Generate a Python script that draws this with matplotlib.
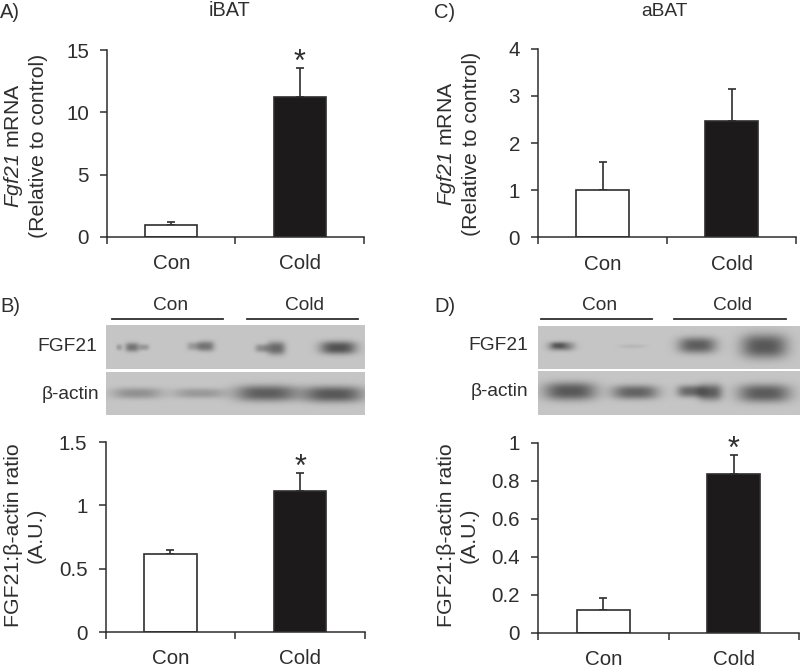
import matplotlib
matplotlib.use('Agg')
import matplotlib.pyplot as plt
import numpy as np

plt.rcParams['font.family'] = ['Liberation Sans', 'DejaVu Sans']
plt.rcParams['mathtext.fontset'] = 'custom'
plt.rcParams['mathtext.rm'] = 'Liberation Sans'
plt.rcParams['mathtext.it'] = 'Liberation Sans:italic'
plt.rcParams['mathtext.cal'] = 'Liberation Sans:italic'

W, H = 800, 671
INK = '#2e2e2e'

groups = ['Con', 'Cold']

# bar heights and top of the error bars
ibat_mrna = [1.0, 11.2]
ibat_mrna_top = [1.18, 13.53]
abat_mrna = [1.0, 2.47]
abat_mrna_top = [1.61, 3.14]
ibat_ratio = [0.613, 1.114]
ibat_ratio_top = [0.65, 1.257]
abat_ratio = [0.121, 0.837]
abat_ratio_top = [0.18, 0.938]

ticks_a = [0, 5, 10, 15]
ticks_c = [0, 1, 2, 3, 4]
ticks_b = [0, 0.5, 1, 1.5]
ticks_d = [0, 0.2, 0.4, 0.6, 0.8, 1]
labels_b = ['0', '0.5', '1', '1.5']
labels_d = ['0', '0.2', '0.4', '0.6', '0.8', '1']

# blot bands: x centre, y centre, half width, half height, darkness (pixels)
bands_b_fgf = [(119, 347, 3, 3, 0.35), (132, 347, 7, 4.5, 0.70), (144, 347, 5, 3, 0.40),
               (194, 346, 7, 4, 0.40), (206, 346, 8, 5, 0.70),
               (262, 348, 7, 4, 0.50), (276, 348, 9, 6.5, 0.80),
               (338, 347.5, 18, 6.5, 1.00)]
bands_b_actin = [(137, 393, 25, 5.5, 0.45), (199, 393, 26, 5, 0.38),
                 (266, 393, 31, 8, 0.90), (333, 394, 30, 8, 0.95)]
bands_d_fgf = [(561, 346, 13, 4.5, 0.70), (558, 345, 7, 3, 0.30), (632, 346, 13, 2, 0.12),
               (697, 345, 19, 8, 0.90), (764, 346, 23, 12, 0.95)]
bands_d_actin = [(570, 391, 26, 9, 0.95), (635, 392, 23, 7, 0.85),
                 (690, 391, 13, 6, 0.80), (710, 392, 12, 8, 0.90), (764, 393, 26, 9, 0.92)]


def px_axes(fig, x0, y0, x1, y1):
    # y0 is the top edge, both measured from the top of the picture
    return fig.add_axes([x0 / W, 1 - y1 / H, (x1 - x0) / W, (y1 - y0) / H])


def px_text(fig, x, y, s, **kw):
    kw.setdefault('color', INK)
    kw.setdefault('ha', 'center')
    kw.setdefault('va', 'center')
    kw.setdefault('fontsize', 13.8)
    fig.text(x / W, 1 - y / H, s, **kw)


def bar_panel(fig, box, vals, tops, ticks, ticklabels, ymax, star):
    ax = px_axes(fig, *box)
    x = [0.5, 1.5]
    ax.bar(x, vals, width=0.405, color=['white', '#1c1a1b'], edgecolor=INK,
           linewidth=1.2, zorder=2)
    for xi, v, t in zip(x, vals, tops):
        ax.errorbar(xi, v, yerr=[[0], [t - v]], color=INK, elinewidth=1.2,
                    capsize=3, capthick=1.2, zorder=1, clip_on=False)
    if star:
        ax.annotate('*', (1.5, tops[1]), xytext=(0, -7), textcoords='offset points',
                    ha='center', va='bottom', fontsize=22, color=INK)
    ax.set_xlim(0, 2)
    ax.set_ylim(0, ymax)
    ax.set_xticks([0, 1, 2])
    ax.set_xticklabels([])
    ax.set_xticks(x, minor=True)
    ax.set_xticklabels(groups, minor=True, fontsize=14.8, color=INK)
    ax.tick_params(axis='x', which='major', length=5, width=1.1, color=INK)
    ax.tick_params(axis='x', which='minor', length=0, pad=12.5)
    ax.set_yticks(ticks)
    ax.set_yticklabels(ticklabels, fontsize=14.8, color=INK)
    ax.tick_params(axis='y', length=5, width=1.1, color=INK, pad=8)
    for side in ['top', 'right']:
        ax.spines[side].set_visible(False)
    for side in ['left', 'bottom']:
        ax.spines[side].set_linewidth(1.1)
        ax.spines[side].set_color(INK)
    return ax


def blot(fig, box, bands):
    x0, y0, x1, y1 = box
    ax = px_axes(fig, x0, y0, x1, y1)
    xx, yy = np.meshgrid(np.arange(x0, x1, 0.5), np.arange(y0, y1, 0.5))
    dark = np.zeros_like(xx)
    for cx, cy, hw, hh, d in bands:
        dark += d * np.exp(-np.abs((xx - cx) / hw) ** 3 - np.abs((yy - cy) / hh) ** 2.5)
    img = 197 - 115 * np.clip(dark, 0, 1)
    ax.imshow(img, cmap='gray', vmin=0, vmax=255, aspect='auto', extent=[x0, x1, y1, y0],
              interpolation='bilinear')
    ax.axis('off')


def group_line(fig, x0, x1, y):
    fig.add_artist(plt.Line2D([x0 / W, x1 / W], [1 - y / H, 1 - y / H], color=INK, linewidth=1.3))


fig = plt.figure(figsize=(W / 100, H / 100), dpi=100, facecolor='white')

bar_panel(fig, (107, 50, 364, 237), ibat_mrna, ibat_mrna_top, ticks_a, [str(t) for t in ticks_a], 15, True)
bar_panel(fig, (538, 48.7, 796, 237.5), abat_mrna, abat_mrna_top, ticks_c, [str(t) for t in ticks_c], 4, False)
bar_panel(fig, (105.5, 442, 365, 632), ibat_ratio, ibat_ratio_top, ticks_b, labels_b, 1.5, True)
bar_panel(fig, (538, 443, 799, 632.5), abat_ratio, abat_ratio_top, ticks_d, labels_d, 1, True)

blot(fig, (106, 325, 365, 369), bands_b_fgf)
blot(fig, (106, 372, 365, 415), bands_b_actin)
blot(fig, (538, 326, 800, 369), bands_d_fgf)
blot(fig, (538, 371, 800, 415), bands_d_actin)

group_line(fig, 112, 223, 319)
group_line(fig, 247, 358, 319)
group_line(fig, 541, 652, 319)
group_line(fig, 674, 786, 319)

px_text(fig, 171, 306, 'Con')
px_text(fig, 305, 306, 'Cold')
px_text(fig, 600, 306, 'Con')
px_text(fig, 733, 306, 'Cold')
px_text(fig, 97, 347, 'FGF21', ha='right')
px_text(fig, 99, 394, 'β-actin', ha='right')
px_text(fig, 528, 346, 'FGF21', ha='right')
px_text(fig, 528, 392, 'β-actin', ha='right')

px_text(fig, 0, 12, 'A)', ha='left', fontsize=14.5)
px_text(fig, 0, 306, 'B)', ha='left', fontsize=14.5)
px_text(fig, 434, 12, 'C)', ha='left', fontsize=14.5)
px_text(fig, 434, 306, 'D)', ha='left', fontsize=14.5)
px_text(fig, 230, 11, 'iBAT', fontsize=14.3)
px_text(fig, 665, 12, 'aBAT', fontsize=13.8)

mrna_label = '$\\mathcal{Fgf21}$ mRNA\n(Relative to control)'
ratio_label = 'FGF21:β-actin ratio\n(A.U.)'
px_text(fig, 25, 146, mrna_label, rotation=90, fontsize=15.3, linespacing=1.25)
px_text(fig, 458, 144, mrna_label, rotation=90, fontsize=15.3, linespacing=1.25)
px_text(fig, 25, 535, ratio_label, rotation=90, fontsize=15.3, linespacing=1.25)
px_text(fig, 458, 535, ratio_label, rotation=90, fontsize=15.3, linespacing=1.25)

fig.savefig('out.png', dpi=100)
